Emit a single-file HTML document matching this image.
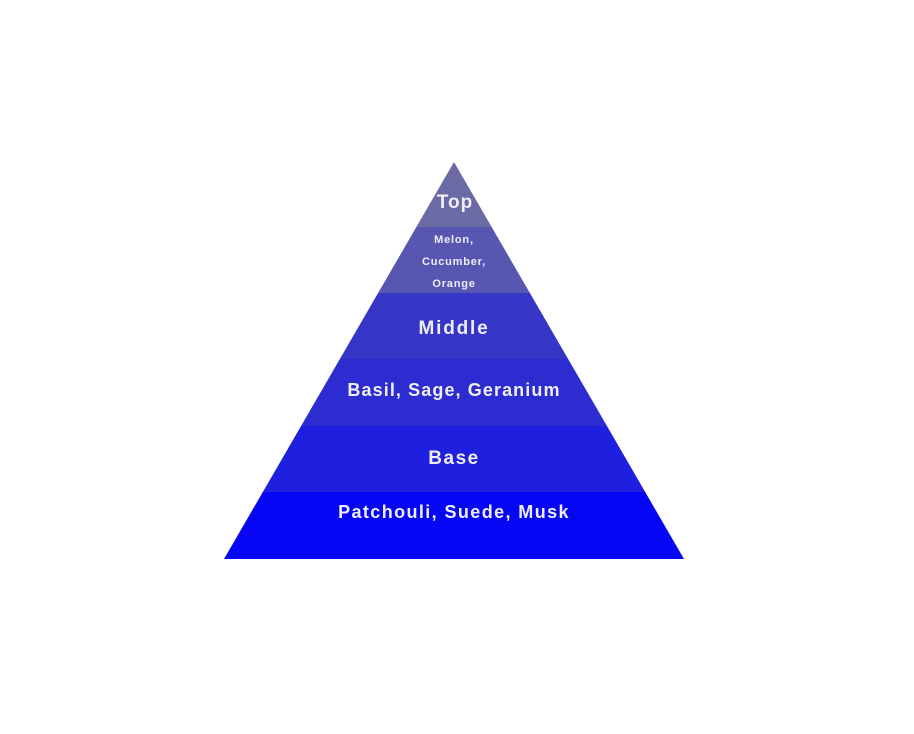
<!DOCTYPE html>
<html><head><meta charset="utf-8"><style>html,body{margin:0;padding:0;background:#fff;}svg{display:block}</style></head>
<body>
<svg width="914" height="734" viewBox="0 0 914 734" xmlns="http://www.w3.org/2000/svg">
<defs><clipPath id="p"><polygon points="454,162 684,559 224,559"/></clipPath></defs>
<g clip-path="url(#p)">
<rect x="200" y="160" width="500" height="67" fill="#6a6aa4"/>
<rect x="200" y="227" width="500" height="66" fill="#5757b2"/>
<rect x="200" y="293" width="500" height="66" fill="#3636c6"/>
<rect x="200" y="359" width="500" height="67" fill="#2c2cd0"/>
<rect x="200" y="426" width="500" height="66" fill="#1f1fe0"/>
<rect x="200" y="492" width="500" height="68" fill="#0606f4"/>
</g>
<g font-family="Liberation Sans, sans-serif" font-weight="bold" fill="#eeeef6" text-anchor="middle">
<text x="455" y="208" font-size="19" letter-spacing="1">Top</text>
<text x="454" y="243" font-size="11" letter-spacing="0.8">Melon,</text>
<text x="454" y="265" font-size="11" letter-spacing="0.8">Cucumber,</text>
<text x="454" y="287" font-size="11" letter-spacing="0.8">Orange</text>
<text x="454" y="334" font-size="19" letter-spacing="1.8">Middle</text>
<text x="454" y="396" font-size="18" letter-spacing="1.1">Basil, Sage, Geranium</text>
<text x="454" y="464" font-size="19" letter-spacing="1.5">Base</text>
<text x="454" y="518" font-size="18" letter-spacing="1.4">Patchouli, Suede, Musk</text>
</g>
</svg>
</body></html>
